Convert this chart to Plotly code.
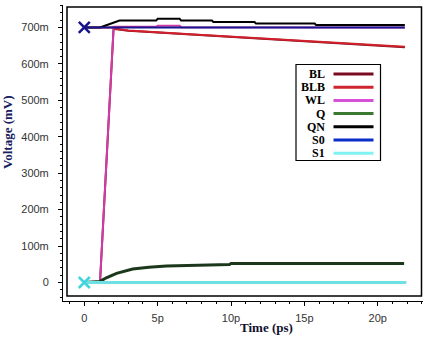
import plotly.graph_objects as go

# ---------------- data (time in ps, voltage in mV) ----------------
SERIES = ["BL", "BLB", "WL", "Q", "QN", "S0", "S1"]

T_BL = [0, 1.07, 2.0, 2.1, 3.0, 7.5, 12.0, 16.5, 21.85]
V_BL = [0, 0, 700, 696, 691, 680, 669, 658, 646]

T_BLB = [0, 2.0, 2.1, 3.0, 7.5, 12.0, 16.5, 21.85]
V_BLB = [700, 700, 697, 692, 681, 670, 659, 647]

T_WL = [0, 1.07, 2.0, 4.9, 5.0, 6.5, 6.6, 15.7, 15.8, 21.85]
V_WL = [0, 0, 702, 702, 705, 705, 701, 701, 700, 700]

T_Q = [0, 1.07, 1.5, 2.2, 3.3, 4.4, 5.6, 6.8, 7.9, 8.7, 9.9, 10.0, 21.8]
V_Q = [0, 3, 13, 25, 37, 42, 45, 46, 48, 49, 49.5, 52, 52]

T_QN = [0, 1.07, 1.5, 2.0, 2.4, 4.9, 5.0, 6.5, 6.6, 8.7, 8.8, 11.6, 11.7, 15.7, 15.8, 21.85]
V_QN = [700, 700, 706, 714, 719, 719, 724, 724, 719, 719, 715, 715, 711, 711, 707, 707]

T_S0 = [0, 21.85]
V_S0 = [700, 700]

T_S1 = [0, 21.95]
V_S1 = [0, 0]

X_TICKS = [0, 5, 10, 15, 20]
X_TICKTEXT = ["0", "5p", "10p", "15p", "20p"]
Y_TICKS = [0, 100, 200, 300, 400, 500, 600, 700]
Y_TICKTEXT = ["0", "100m", "200m", "300m", "400m", "500m", "600m", "700m"]

X_TITLE = "Time (ps)"
Y_TITLE = "Voltage (mV)"

# ---------------- styles ----------------
LINE_COLORS = ["#7a1020", "#d0202c", "#d23aa8", "#1c381c", "#000000", "#161690", "#6fe0e2"]
LINE_WIDTHS = [2, 2, 2, 3, 2, 2, 3]
LEGEND_COLORS = ["#7a0a1e", "#d0242e", "#d650d8", "#3a7a30", "#000000", "#0a2ec8", "#80f2f2"]

W, H = 424, 337
ML, MR, MT, MB = 63, 1, 5, 36
PW, PH = W - ML - MR, H - MT - MB


def px(xp):
    return (xp - ML) / PW


def py(yp):
    return (H - MB - yp) / PH


data_t = [T_BL, T_BLB, T_WL, T_Q, T_QN, T_S0, T_S1]
data_v = [V_BL, V_BLB, V_WL, V_Q, V_QN, V_S0, V_S1]

fig = go.Figure()
for name, t, v, c, w in zip(SERIES, data_t, data_v, LINE_COLORS, LINE_WIDTHS):
    fig.add_trace(go.Scatter(x=t, y=v, mode="lines", name=name,
                             line=dict(color=c, width=w), showlegend=False))

# start markers on the sources
fig.add_trace(go.Scatter(x=[T_S0[0]], y=[V_S0[0]], mode="markers", showlegend=False,
                         marker=dict(symbol="x-thin", size=11,
                                     line=dict(color="#14148c", width=2.5))))
fig.add_trace(go.Scatter(x=[T_S1[0]], y=[V_S1[0]], mode="markers", showlegend=False,
                         marker=dict(symbol="x-thin", size=11,
                                     line=dict(color="#40d4dc", width=2.5))))

shapes = []
annotations = []
# plot box (detached from axes)
shapes.append(dict(type="rect", xref="paper", yref="paper",
                   x0=px(67), x1=px(421.5), y0=py(296), y1=py(7),
                   line=dict(color="black", width=1.5)))

# manual legend (text left of swatch)
shapes.append(dict(type="rect", xref="paper", yref="paper",
                   x0=px(296), x1=px(380.5), y0=py(160.5), y1=py(64.5),
                   line=dict(color="black", width=1.2), fillcolor="white"))
for i, (name, c) in enumerate(zip(SERIES, LEGEND_COLORS)):
    yrow = 74 + i * 13.2
    shapes.append(dict(type="line", xref="paper", yref="paper",
                       x0=px(333.5), x1=px(373.5), y0=py(yrow), y1=py(yrow),
                       line=dict(color=c, width=3)))
    annotations.append(dict(text=name, xref="paper", yref="paper", x=px(325.5), y=py(yrow),
                            xanchor="right", yanchor="middle", showarrow=False,
                            borderpad=0,
                            font=dict(family="Liberation Serif", size=12, color="black",
                                      weight="bold")))

annotations.append(dict(text=X_TITLE, xref="paper", yref="paper", x=px(266.5), y=py(327.5),
                        xanchor="center", yanchor="middle", showarrow=False,
                        font=dict(family="Liberation Serif", size=13, color="#10102e",
                                  weight="bold")))
annotations.append(dict(text=Y_TITLE, xref="paper", yref="paper", x=px(7.5), y=py(132.5),
                        xanchor="center", yanchor="middle", showarrow=False, textangle=-90,
                        font=dict(family="Liberation Serif", size=13, color="#17205e",
                                  weight="bold")))

x_lo = (ML - 84.3) / 14.67
x_hi = (W - MR - 84.3) / 14.67
y_lo = (282.5 - (H - MB)) / 0.3643
y_hi = (282.5 - MT) / 0.3643

tick_font = dict(family="Liberation Sans", size=11, color="#333333")
fig.update_layout(
    width=W, height=H,
    margin=dict(l=ML, r=MR, t=MT, b=MB, pad=0),
    paper_bgcolor="white", plot_bgcolor="white",
    shapes=shapes, annotations=annotations,
    showlegend=False,
    xaxis=dict(range=[x_lo, x_hi], tickmode="array", tickvals=X_TICKS, ticktext=X_TICKTEXT,
               showgrid=False, zeroline=False, showline=True, linecolor="black", linewidth=1,
               ticks="outside", ticklen=4, tickwidth=1, tickcolor="black",
               minor=dict(dtick=1, tick0=0, ticks="outside", ticklen=2, tickcolor="black",
                          showgrid=False),
               tickfont=tick_font, ticklabelstandoff=3),
    yaxis=dict(range=[y_lo, y_hi], tickmode="array", tickvals=Y_TICKS, ticktext=Y_TICKTEXT,
               showgrid=False, zeroline=False, showline=True, linecolor="black", linewidth=1,
               ticks="outside", ticklen=4, tickwidth=1, tickcolor="black",
               minor=dict(dtick=20, tick0=0, ticks="outside", ticklen=2, tickcolor="black",
                          showgrid=False),
               tickfont=tick_font, ticklabelstandoff=7),
)

fig.write_html("out.html")
